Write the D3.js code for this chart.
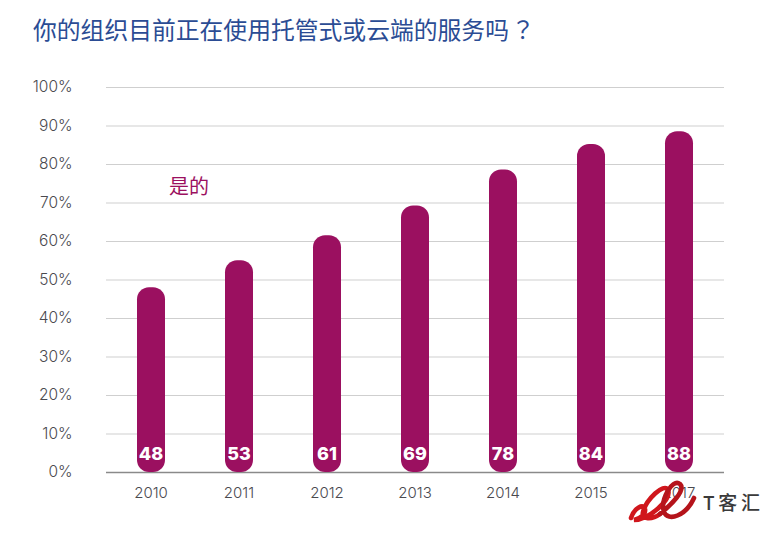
<!DOCTYPE html>
<html>
<head>
<meta charset="utf-8">
<script src="https://cdn.jsdelivr.net/npm/d3@7"></script>
<style>
  html, body { margin: 0; padding: 0; background: #fff; }
  svg { display: block; }
  text { font-family: Inter, "Noto Sans CJK SC", sans-serif; }
</style>
</head>
<body>
<svg id="chart" width="770" height="534"></svg>
<script>
const years = ['2010', '2011', '2012', '2013', '2014', '2015', '2017'];
const barHeights = [48, 55, 61.5, 69.2, 78.6, 85.2, 88.5];
const barLabels = ['48', '53', '61', '69', '78', '84', '88'];
const yTicks = [0, 10, 20, 30, 40, 50, 60, 70, 80, 90, 100];
const titleText = '你的组织目前正在使用托管式或云端的服务吗';
const seriesName = '是的';

const cjk = '"Noto Sans CJK SC", sans-serif';
const svg = d3.select('#chart');

const x = d3.scaleBand().domain(years).range([107, 723]);
const y = d3.scaleLinear().domain([0, 100]).range([472, 87]);
const barWidth = 28;

const title = svg.append('text')
  .attr('x', 33)
  .attr('y', 39)
  .attr('fill', '#2b4c94')
  .style('font-family', cjk)
  .style('font-size', '23.8px')
  .text(titleText);
// the question mark is centred in its cell in the original
title.append('tspan')
  .attr('dx', 2)
  .style('font-family', '"Noto Sans CJK TC", sans-serif')
  .text('？');

// gridlines, y labels
const yAxis = svg.append('g')
  .attr('transform', 'translate(106,0)')
  .call(d3.axisLeft(y).tickValues(yTicks).tickFormat((d) => d + '%').tickSize(-618).tickPadding(33.5));
yAxis.select('.domain').remove();
yAxis.selectAll('.tick line')
  .attr('stroke', (d) => (d === 0 ? '#8a8a8a' : '#cfcfcf'))
  .attr('stroke-width', (d) => (d === 0 ? 1.6 : 1.2));
yAxis.selectAll('.tick text')
  .attr('fill', '#4a4a4f')
  .style('font-size', '15.5px')
  .style('font-weight', 300);

const xAxis = svg.append('g')
  .attr('transform', 'translate(0,472)')
  .call(d3.axisBottom(x).tickSize(0).tickPadding(15));
xAxis.select('.domain').remove();
xAxis.selectAll('.tick text')
  .attr('fill', '#4a4a4f')
  .style('font-size', '15px')
  .style('font-weight', 300);

svg.append('g')
  .selectAll('rect')
  .data(years)
  .join('rect')
  .attr('x', (d) => x(d) + x.bandwidth() / 2 - barWidth / 2)
  .attr('y', (d, i) => y(barHeights[i]))
  .attr('width', barWidth)
  .attr('height', (d, i) => y(0) - y(barHeights[i]))
  .attr('rx', 12)
  .attr('fill', '#9b1060');

svg.append('g')
  .selectAll('text')
  .data(barLabels)
  .join('text')
  .attr('x', (d, i) => x(years[i]) + x.bandwidth() / 2)
  .attr('y', 460)
  .attr('text-anchor', 'middle')
  .attr('fill', '#fff')
  .style('font-size', '18px')
  .style('font-weight', 800)
  .text((d) => d);

svg.append('text')
  .attr('x', 169)
  .attr('y', 194)
  .attr('fill', '#9b1060')
  .style('font-family', cjk)
  .style('font-size', '20px')
  .text(seriesName);

// watermark sits on top of the last year label
const logo = svg.append('g').attr('fill', 'none').attr('stroke-linecap', 'round');
logo.append('path')
  .attr('d', 'M631 518 C634 508 644 503 645 509 C646 514 640 519 634 520 C648 520 672 500 668 490 C664 482 646 500 643 512 C641 520 652 520 660 514')
  .attr('stroke', '#d0161c').attr('stroke-width', 4.6);
logo.append('path')
  .attr('d', 'M660 514 C672 504 686 490 680 484 C672 478 660 500 664 512 C668 522 686 516 694 498')
  .attr('stroke', '#b5141b').attr('stroke-width', 4.6);
svg.append('text')
  .attr('x', 703)
  .attr('y', 510)
  .attr('fill', '#3a3a3a')
  .attr('textLength', 57)
  .style('font-family', cjk)
  .style('font-size', '19px')
  .style('font-weight', 500)
  .text('T客汇');
</script>
</body>
</html>
